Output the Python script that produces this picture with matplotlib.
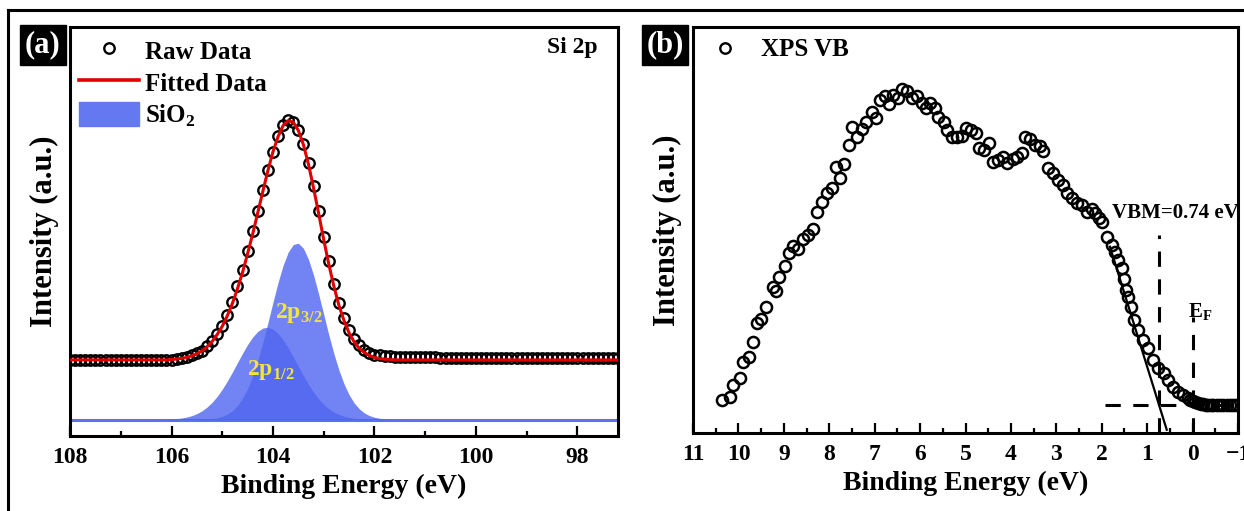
import matplotlib
matplotlib.use('Agg')
import matplotlib.pyplot as plt
import numpy as np
from matplotlib.lines import Line2D
from matplotlib.patches import Patch, Rectangle
from matplotlib.ticker import MultipleLocator

plt.rcParams['font.family'] = ['Liberation Serif', 'DejaVu Serif']
plt.rcParams['font.weight'] = 'bold'
plt.rcParams['lines.scale_dashes'] = False

# ---- panel (a): Si 2p core level ----
energy_a = np.round(np.arange(108.0, 97.15, -0.1), 1)   # 108.0 ... 97.2, 0.1 eV step

fit_a = ([0.186] * 20 +
         [0.187, 0.188, 0.190, 0.192, 0.196, 0.201, 0.208, 0.218, 0.231, 0.248,
          0.268, 0.294, 0.324, 0.360, 0.400, 0.446, 0.494, 0.546, 0.598, 0.649,
          0.695, 0.732, 0.759, 0.771, 0.767, 0.747, 0.712, 0.664, 0.606, 0.544,
          0.480, 0.420, 0.366, 0.319, 0.282, 0.252, 0.230, 0.214, 0.204, 0.197,
          0.192, 0.189, 0.188, 0.187] +
         [0.186] * 45)

raw_a = ([0.186] * 20 +
         [0.187, 0.189, 0.190, 0.193, 0.197, 0.202, 0.209, 0.219, 0.232, 0.250,
          0.270, 0.297, 0.328, 0.366, 0.407, 0.452, 0.500, 0.551, 0.601, 0.650,
          0.695, 0.733, 0.760, 0.772, 0.768, 0.749, 0.714, 0.667, 0.610, 0.549,
          0.486, 0.427, 0.372, 0.326, 0.289, 0.260, 0.238, 0.222, 0.211, 0.204,
          0.199, 0.197, 0.196, 0.195] +
         [0.194, 0.194, 0.193, 0.193, 0.193, 0.192, 0.192, 0.192, 0.192, 0.191] +
         [0.191] * 35)

base_a = 0.04

comp_12 = ([0.0] * 18 + [0.0005, 0.0008] +
           [0.0014, 0.0024, 0.0039, 0.0063, 0.0097, 0.0147, 0.0215, 0.0306, 0.0423, 0.0569,
            0.0743, 0.0943, 0.1163, 0.1394, 0.1623, 0.1837, 0.2019, 0.2157, 0.2239, 0.2259,
            0.2214, 0.2108, 0.1951, 0.1754, 0.1532, 0.1301, 0.1073, 0.0860, 0.0670, 0.0507,
            0.0373, 0.0266, 0.0185, 0.0125, 0.0082, 0.0052, 0.0032, 0.0019, 0.0011, 0.0006,
            0.0003] + [0.0] * 10 +
           [0.0] * 38)

comp_32 = ([0.0] * 20 +
           [0.0, 0.0, 0.0, 0.0, 0.0002, 0.0003, 0.0007, 0.0013, 0.0025, 0.0045,
            0.0080, 0.0135, 0.0219, 0.0344, 0.0521, 0.0759, 0.1066, 0.1444, 0.1884, 0.2370,
            0.2872, 0.3354, 0.3775, 0.4095, 0.4281, 0.4313, 0.4187, 0.3917, 0.3532, 0.3069,
            0.2570, 0.2074, 0.1613, 0.1209, 0.0873, 0.0608, 0.0408, 0.0264, 0.0164, 0.0099,
            0.0057, 0.0032, 0.0017, 0.0008, 0.0004, 0.0002, 0.0, 0.0, 0.0, 0.0, 0.0] +
           [0.0] * 38)

# ---- panel (b): valence band ----
vb_energy = [10.37, 10.19, 10.12, 9.96, 9.90, 9.77, 9.68, 9.59, 9.50, 9.39,
             9.24, 9.17, 9.11, 8.97, 8.89, 8.80, 8.69, 8.58, 8.47, 8.36,
             8.27, 8.16, 8.05, 7.94, 7.85, 7.76, 7.67, 7.56, 7.50, 7.39,
             7.28, 7.19, 7.06, 6.97, 6.88, 6.77, 6.68, 6.59, 6.48, 6.40,
             6.29, 6.18, 6.07, 5.96, 5.87, 5.78, 5.67, 5.60, 5.47, 5.41,
             5.30, 5.19, 5.08, 4.99, 4.88, 4.77, 4.70, 4.59, 4.48, 4.39,
             4.28, 4.17, 4.08, 3.95, 3.86, 3.75, 3.69, 3.58, 3.47, 3.36,
             3.29, 3.18, 3.07, 2.96, 2.85, 2.76, 2.65, 2.54, 2.43, 2.32,
             2.21, 2.15, 2.07, 1.99, 1.88, 1.77, 1.70, 1.64, 1.55, 1.50,
             1.46, 1.42, 1.35, 1.29, 1.20, 1.09, 0.98, 0.87, 0.76, 0.63,
             0.54, 0.43, 0.32, 0.21, 0.10, 0.05, -0.01, -0.06, -0.12, -0.18,
             -0.23, -0.29, -0.34, -0.40, -0.45, -0.53, -0.61, -0.68, -0.76, -0.83,
             -0.89, -0.96]
vb_int = [0.081, 0.089, 0.118, 0.135, 0.175, 0.187, 0.224, 0.271, 0.281, 0.310,
          0.360, 0.350, 0.384, 0.411, 0.443, 0.461, 0.453, 0.478, 0.488, 0.502,
          0.544, 0.569, 0.591, 0.603, 0.655, 0.628, 0.663, 0.709, 0.754, 0.729,
          0.749, 0.766, 0.791, 0.776, 0.820, 0.830, 0.810, 0.833, 0.825, 0.847,
          0.842, 0.825, 0.830, 0.813, 0.800, 0.813, 0.800, 0.778, 0.766, 0.746,
          0.729, 0.729, 0.732, 0.751, 0.746, 0.739, 0.702, 0.697, 0.714, 0.667,
          0.672, 0.680, 0.665, 0.675, 0.680, 0.690, 0.729, 0.724, 0.709, 0.707,
          0.695, 0.653, 0.640, 0.623, 0.611, 0.591, 0.579, 0.567, 0.562, 0.544,
          0.552, 0.542, 0.530, 0.520, 0.483, 0.463, 0.446, 0.426, 0.406, 0.380,
          0.352, 0.335, 0.310, 0.278, 0.254, 0.229, 0.209, 0.180, 0.160, 0.148,
          0.131, 0.113, 0.101, 0.094, 0.086, 0.082, 0.079, 0.076, 0.074, 0.072,
          0.071, 0.070, 0.069, 0.069, 0.069, 0.069, 0.069, 0.069, 0.069, 0.069,
          0.069, 0.069]

tangent_e = [1.82, 0.57]
tangent_i = [0.459, 0.008]
vbm = 0.74
vb_base = 0.069
fermi = 0.0

blue = '#4f65f0'
xlabel_fs = 20
ylabel_fs = 22
tick_fs = 17
leg_fs = 18

fig = plt.figure(figsize=(12.44, 5.11), dpi=100)
ax1 = fig.add_axes([0.0563, 0.1468, 0.4405, 0.8004])
ax2 = fig.add_axes([0.5571, 0.1526, 0.4381, 0.7945])

# (a)
ax1.axhline(base_a, color='#5a72f2', lw=2.2, zorder=1)
ax1.fill_between(energy_a, base_a, base_a + np.array(comp_12), color=blue, alpha=0.8, lw=0, zorder=2)
ax1.fill_between(energy_a, base_a, base_a + np.array(comp_32), color=blue, alpha=0.8, lw=0, zorder=2)
ax1.plot(energy_a, raw_a, 'o', mfc='none', mec='black', ms=7.5, mew=1.7, zorder=3)
ax1.plot(energy_a, fit_a, color='#e00000', lw=2.2, zorder=4)

ax1.text(103.96, 0.289, r'2p$_{\mathregular{3/2}}$', color='#f2e43c', fontsize=17, fontweight='bold', va='baseline', zorder=5)
ax1.text(104.51, 0.149, r'2p$_{\mathregular{1/2}}$', color='#f2e43c', fontsize=17, fontweight='bold', va='baseline', zorder=5)
ax1.text(0.9635, 0.951, 'Si 2p', transform=ax1.transAxes, ha='right', va='center', fontsize=17)

handles_a = [Line2D([], [], marker='o', ls='none', mfc='none', mec='black', ms=7.5, mew=1.7),
             Line2D([], [], color='#e00000', lw=2.6),
             Patch(facecolor='#6478f2', edgecolor='#6478f2')]
ax1.legend(handles_a, ['Raw Data', 'Fitted Data', r'SiO$_{\mathregular{2}}$'],
           loc='upper left', bbox_to_anchor=(0.016, 0.973), frameon=False,
           prop={'size': leg_fs, 'weight': 'bold'}, handlelength=2.4, handleheight=1.12,
           handletextpad=0.24, labelspacing=0.25, borderpad=0, borderaxespad=0)

ax1.set_xlim(108, 97.2)
ax1.set_ylim(0, 1)
ax1.xaxis.set_major_locator(MultipleLocator(2))
ax1.xaxis.set_minor_locator(MultipleLocator(1))

# (b)
ax2.plot(vb_energy, vb_int, 'o', mfc='none', mec='black', ms=8, mew=1.8, zorder=3)
ax2.plot(tangent_e, tangent_i, color='black', lw=1.6, zorder=4)
ax2.plot([vbm, vbm], [0, 0.488], color='black', lw=2.2, dashes=(11, 9), zorder=4)
ax2.plot([fermi, fermi], [0, 0.286], color='black', lw=2.2, dashes=(11, 9), zorder=4)
ax2.plot([1.93, -1.0], [vb_base, vb_base], color='black', lw=2.2, dashes=(11, 9), zorder=4)
ax2.text(1.77, 0.542, 'VBM=0.74 eV', ha='left', va='center', fontsize=15)
ax2.text(0.10, 0.298, r'E$_{\mathregular{F}}$', ha='left', va='center', fontsize=15)

handles_b = [Line2D([], [], marker='o', ls='none', mfc='none', mec='black', ms=7.5, mew=1.7)]
ax2.legend(handles_b, ['XPS VB'], loc='upper left', bbox_to_anchor=(0.004, 0.972), frameon=False,
           prop={'size': leg_fs, 'weight': 'bold'}, handlelength=2.4, handletextpad=0.24,
           borderpad=0, borderaxespad=0)

ax2.set_xlim(11, -1)
ax2.set_ylim(0, 1)
ax2.xaxis.set_major_locator(MultipleLocator(1))
ax2.xaxis.set_minor_locator(MultipleLocator(0.5))

for ax in (ax1, ax2):
    ax.set_yticks([])
    for s in ax.spines.values():
        s.set_linewidth(2.2)
    ax.tick_params(axis='x', which='major', direction='in', length=7, width=1.6, labelsize=tick_fs, pad=8)
    ax.tick_params(axis='x', which='minor', direction='in', length=3.5, width=1.6)
    ax.set_xlabel('Binding Energy (eV)', fontsize=xlabel_fs, fontweight='bold', labelpad=4)
    ax.set_ylabel('Intensity (a.u.)', fontsize=ylabel_fs, fontweight='bold', labelpad=8)
    for t in ax.get_xticklabels():
        t.set_fontweight('bold')

# panel tags in black boxes
for x0, tag in [(20, '(a)'), (642, '(b)')]:
    fig.add_artist(Rectangle((x0 / 1244, 1 - 65 / 511), 46 / 1244, 40 / 511,
                             transform=fig.transFigure, color='black'))
    fig.text((x0 + 23) / 1244, 1 - 45 / 511, tag, color='white', fontsize=22,
             ha='center', va='center')

# outer frame
fig.add_artist(Line2D([8 / 1244, 1], [1 - 10 / 511] * 2, transform=fig.transFigure, color='black', lw=2.2))
fig.add_artist(Line2D([8 / 1244] * 2, [0, 1 - 10 / 511], transform=fig.transFigure, color='black', lw=2.2))

fig.savefig('out.png', dpi=100)
